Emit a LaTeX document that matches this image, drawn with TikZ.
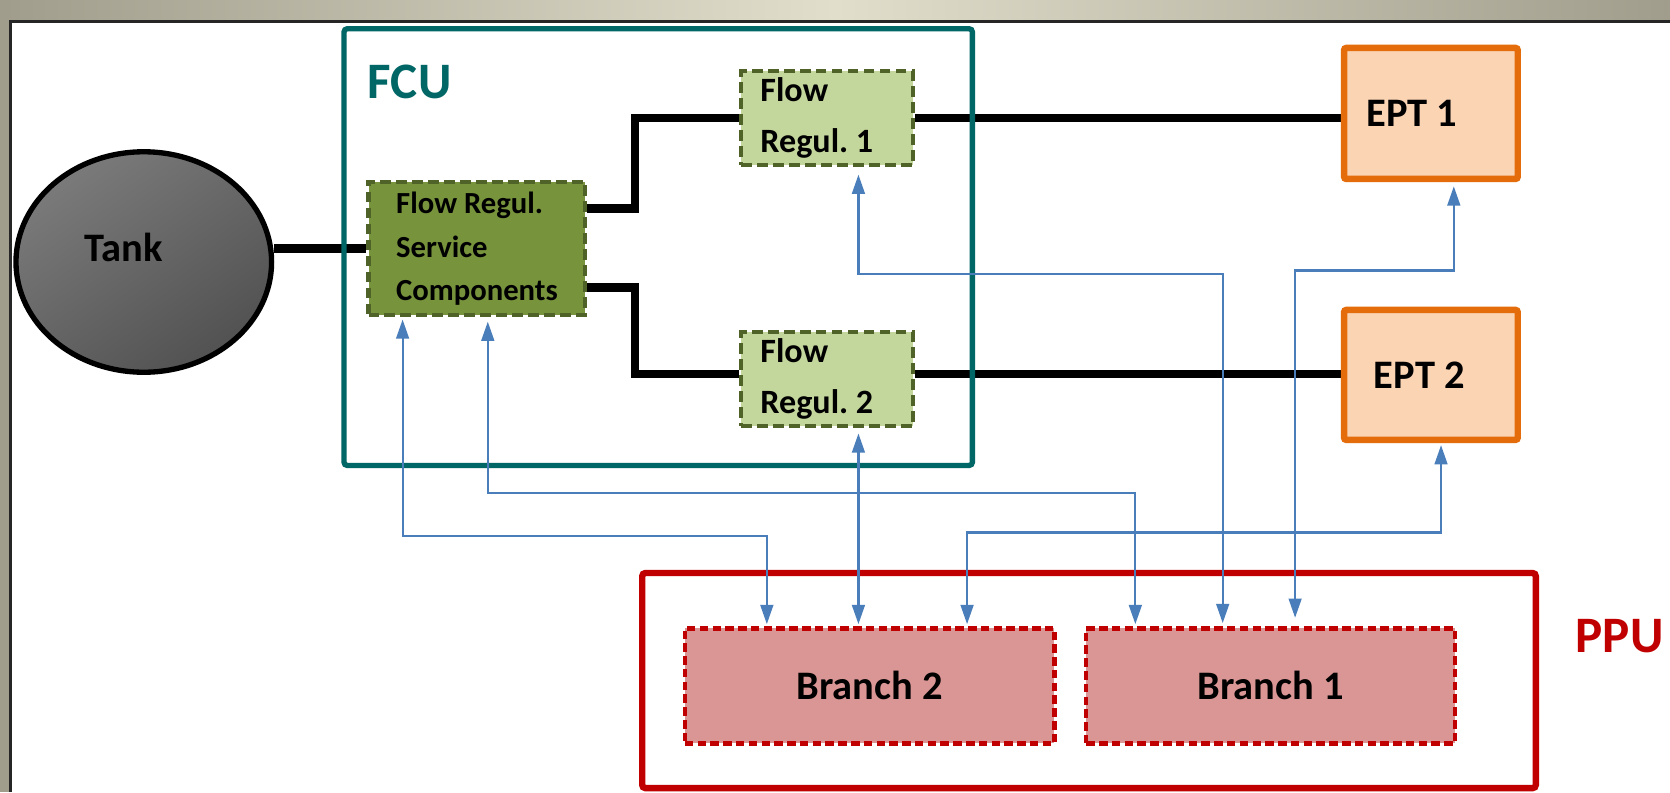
\documentclass[tikz,border=0pt]{standalone}
\usepackage{fontspec}
\setmainfont{Carlito}
\frenchspacing
\usetikzlibrary{shapes.geometric,calc,arrows.meta}
\definecolor{fcuteal}{RGB}{0,102,102}
\definecolor{olive}{RGB}{119,147,60}
\definecolor{olivedark}{RGB}{79,98,40}
\definecolor{lightolive}{RGB}{195,214,155}
\definecolor{eptorange}{RGB}{228,108,10}
\definecolor{eptfill}{RGB}{251,212,180}
\definecolor{pred}{RGB}{192,0,0}
\definecolor{brfill}{RGB}{217,150,148}
\definecolor{linkblue}{RGB}{74,126,187}
\definecolor{frametan}{RGB}{226,222,204}
\definecolor{framegray}{RGB}{160,157,140}
\pgfdeclarelayer{bg}
\pgfdeclarelayer{pipes}
\pgfsetlayers{bg,pipes,main}
\begin{document}
\begin{tikzpicture}[x=0.5pt,y=-0.5pt,
  tightspace/.style={execute at begin node={\spaceskip=\fontdimen2\font\relax}},
  bigfont/.style={font=\fontsize{19}{23}\selectfont\bfseries},
  fcubox/.style={draw=fcuteal, line width=2.5pt, rounded corners=1.5pt, inner sep=0pt},
  ppubox/.style={draw=pred, line width=3pt, rounded corners=1.5pt, inner sep=0pt},
  frscbox/.style={draw=olivedark, fill=olive, line width=2pt, dash pattern=on 5pt off 2.5pt,
     align=left, tightspace, inner ysep=0pt, font=\fontsize{14.4}{20.5}\selectfont\bfseries},
  frbox/.style={draw=olivedark, fill=lightolive, line width=2pt, dash pattern=on 5pt off 2.5pt,
     align=left, tightspace, inner ysep=0pt, font=\fontsize{16}{24}\selectfont\bfseries},
  eptbox/.style={draw=eptorange, fill=eptfill, line width=3pt, rounded corners=1pt,
     align=left, tightspace, inner ysep=0pt, bigfont},
  brbox/.style={draw=pred, fill=brfill, line width=2pt, dash pattern=on 4pt off 2pt,
     inner sep=0pt, bigfont},
  pipe/.style={line width=4pt, line join=miter, black},
  conn/.style={draw=linkblue, line width=1pt,
     {Triangle[width=6pt,length=9pt]}-{Triangle[width=6pt,length=9pt]}},
  lbl/.style={inner sep=0pt, anchor=west, font=\fontsize{24}{28}\selectfont\bfseries}
]
\useasboundingbox (0,0) rectangle (1568,744);
% frame
\begin{pgfonlayer}{bg}
\shade[left color=framegray, right color=framegray, middle color=frametan] (0,0) rectangle (1568,20);
\fill[framegray] (0,0) rectangle (10,744);
\fill[white] (10,20) rectangle (1568,744);
\draw[line width=1.2pt, black!85] (10,744) -- (10,20) -- (1568,20);
\end{pgfonlayer}

% containers
\node[fcubox, minimum width=295pt, minimum height=205pt] (fcu) at (618,232) {};
\node[lbl, text=fcuteal] (fculbl) at (345,77) {FCU};
\node[ppubox, minimum width=419.5pt, minimum height=101pt] (ppu) at (1022.5,639) {};
\node[lbl, text=pred] (ppulbl) at (1479,597) {PPU};

% tank
\node[ellipse, draw=black, line width=2.5pt, minimum width=120pt, minimum height=103.5pt,
      top color=black!52, bottom color=black!68, shading angle=35] (tank) at (135,246) {};
\node[bigfont, inner sep=0pt] (tanklbl) at (116,232) {Tank};

% components
\node[frscbox, minimum width=101.5pt, minimum height=62.5pt, inner xsep=13pt, text width=75.5pt]
  (frsc) at (447.5,233.5) {Flow Regul.\\Service\\Components};
\node[frbox, minimum width=80.5pt, minimum height=44pt, inner xsep=9pt, text width=62.5pt]
  (fr1) at (776.5,111) {Flow\\Regul. 1};
\node[frbox, minimum width=80.5pt, minimum height=44pt, inner xsep=9pt, text width=62.5pt]
  (fr2) at (776.5,356) {Flow\\Regul. 2};
\node[eptbox, minimum width=81.5pt, minimum height=61.5pt, inner xsep=10.5pt, text width=60.5pt]
  (ept1) at (1343.5,106.5) {EPT 1};
\node[eptbox, minimum width=81.5pt, minimum height=61pt, inner xsep=14pt, text width=53.5pt]
  (ept2) at (1343.5,352) {EPT 2};
\node[brbox, minimum width=173.5pt, minimum height=54pt] (br2) at (816.5,644) {Branch 2};
\node[brbox, minimum width=173pt, minimum height=54pt] (br1) at (1193,644) {Branch 1};

% pipes
\begin{pgfonlayer}{pipes}
\draw[pipe] (tank.east |- frsc.west) -- (frsc.west);
\draw[pipe] ($(frsc.east)+(0,-37.5)$) -- ++(45,0) |- (fr1.west);
\draw[pipe] ($(frsc.east)+(0,36.5)$) -- ++(45,0) |- ($(fr2.west)+(0,-5)$);
\draw[pipe] (fr1.east) -- (ept1.west |- fr1.east);
\draw[pipe] ($(fr2.east)+(0,-5)$) -- ($(ept2.west |- fr2.east)+(0,-5)$);
\end{pgfonlayer}

% signal links
\draw[conn] ($(frsc.south west)+(34,2)$) |- ($(br2.north west)+(79,-85)$) -- ($(br2.north west)+(79,-2)$);
\draw[conn] ($(frsc.south west)+(114,4)$) |- ($(br1.north west)+(48,-125)$) -- ($(br1.north west)+(48,-2)$);
\draw[conn] ($(fr1.south west)+(112,7)$) |- ($(br1.north west)+(130,-331)$) -- ($(br1.north west)+(130,-3)$);
\draw[conn] ($(ept1.south west)+(106,4)$) |- ($(br1.north west)+(198,-334)$) -- ($(br1.north west)+(198,-8)$);
\draw[conn] ($(fr2.south west)+(112,5)$) -- ($(br2.north west)+(165,-2)$);
\draw[conn] ($(ept2.south west)+(94,2)$) |- ($(br2.north west)+(267,-88)$) -- ($(br2.north west)+(267,-2)$);
\end{tikzpicture}
\end{document}
